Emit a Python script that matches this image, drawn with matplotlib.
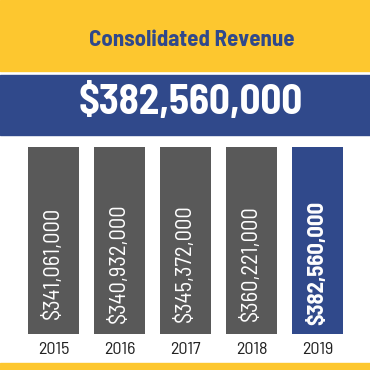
import matplotlib
matplotlib.use("Agg")
import matplotlib.pyplot as plt
from matplotlib.patches import Rectangle

# data
years = ["2015", "2016", "2017", "2018", "2019"]
revenue = [341061000, 340932000, 345372000, 360221000, 382560000]
title = "Consolidated Revenue"

YELLOW = "#FDC72F"
BLUE = "#30498B"
GRAY = "#595959"
SEMI = ["Barlow Semi Condensed", "DejaVu Sans"]

W = H = 370
fig = plt.figure(figsize=(3.7, 3.7), dpi=100)
fig.patch.set_facecolor("white")

def px_rect(x0, y0, x1, y1, color):
    # rectangle in pixel coords, y from top
    fig.patches.append(Rectangle((x0 / W, 1 - y1 / H), (x1 - x0) / W, (y1 - y0) / H,
                                 transform=fig.transFigure, color=color, zorder=0))

px_rect(0, 0, 370, 71, YELLOW)
px_rect(0, 75, 370, 135, BLUE)
px_rect(0, 363, 370, 370, YELLOW)

fig.text(192 / W, 1 - 40 / H, title, ha="center", va="center", color=BLUE,
         fontsize=16.5, fontweight="bold", family=SEMI)
fig.text(191 / W, 1 - 103 / H, f"${revenue[-1]:,}", ha="center", va="center",
         color="white", fontsize=29.5, fontweight="bold", family=SEMI)

# bars: all clipped at the same top, like the card layout
ax = fig.add_axes([20.5 / W, (H - 334) / H, 330 / W, (334 - 147) / H])
colors = [GRAY] * (len(years) - 1) + [BLUE]
x = range(len(years))
ax.bar(x, revenue, width=51 / 66, color=colors)
ax.set_xlim(-0.5, len(years) - 0.5)
ax.set_ylim(0, 330e6)
ax.axis("off")

for i, v in enumerate(revenue):
    last = i == len(years) - 1
    ax.text(i, (334 - 263) / (334 - 147), f"${v:,}", transform=ax.get_xaxis_transform(),
            rotation=90, ha="center", va="center", color="white",
            fontsize=16.3, fontweight="bold" if last else "normal", family=SEMI)
    ax.text(i, -15 / (334 - 147), years[i], transform=ax.get_xaxis_transform(),
            ha="center", va="center", color="#222222", fontsize=13, family=SEMI)

fig.savefig("out.png", dpi=100, facecolor=fig.get_facecolor())
